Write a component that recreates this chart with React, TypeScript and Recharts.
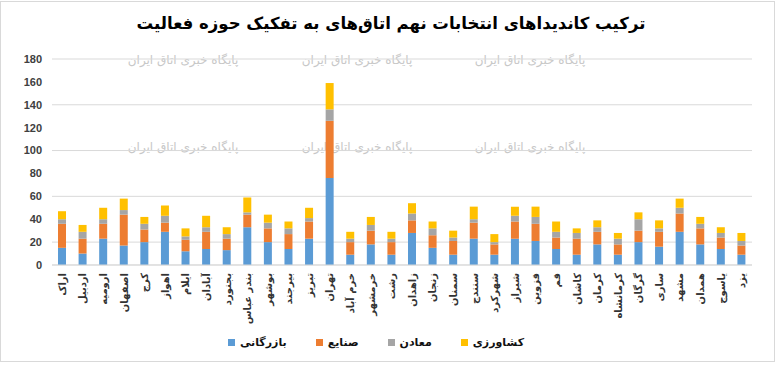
import React from "react";
import { BarChart, Bar, XAxis, YAxis, CartesianGrid, Legend } from "recharts";

const cities = ["اراک","اردبیل","ارومیه","اصفهان","کرج","اهواز","ایلام","آبادان","بجنورد","بندر عباس","بوشهر","بیرجند","تبریز","تهران","خرم آباد","خرمشهر","رشت","زاهدان","زنجان","سمنان","سنندج","شهرکرد","شیراز","قزوین","قم","کاشان","کرمان","کرمانشاه","گرگان","ساری","مشهد","همدان","یاسوج","یزد"];
const commerce = [15,10,23,17,20,29,12,14,13,33,20,14,23,76,9,18,9,28,15,9,23,9,23,21,14,9,18,9,20,16,29,18,14,9];
const industry = [21,13,13,27,11,8,10,15,10,11,12,13,15,50,11,12,11,11,11,12,14,9,15,15,10,14,11,9,10,13,16,14,10,8];
const mining = [4,6,4,4,5,6,3,4,4,2,5,5,3,10,3,5,3,6,6,3,3,2,5,6,5,5,4,5,10,3,5,4,4,4];
const agriculture = [7,6,10,10,6,9,7,10,6,13,7,6,9,23,6,7,6,9,6,6,11,7,8,9,9,4,6,5,6,7,8,6,5,7];
const yTicks = [0,20,40,60,80,100,120,140,160,180];

const seriesNames = ["بازرگانی","صنایع","معادن","کشاورزی"];
const seriesKeys = ["commerce","industry","mining","agriculture"];
const seriesColors = ["#5B9BD5","#ED7D31","#A5A5A5","#FFC000"];

const title = "ترکیب کاندیداهای انتخابات نهم اتاق‌های به تفکیک حوزه فعالیت";
const watermark = "پایگاه خبری اتاق ایران";

const data = cities.map((c, i) => ({
  city: c,
  commerce: commerce[i],
  industry: industry[i],
  mining: mining[i],
  agriculture: agriculture[i],
}));

const FA = "'DejaVu Sans', sans-serif";

const CityTick = (props: any) => {
  const { x, y, payload } = props;
  return (
    <g transform={`translate(${x},${y})`}>
      <text
        transform="rotate(-90)"
        x={-8}
        y={0}
        dy="0.35em"
        textAnchor="end"
        fontFamily={FA}
        fontSize={10}
        fontWeight="bold"
        fill="#333"
      >
        {payload.value}
      </text>
    </g>
  );
};

const LegendContent = () => (
  <div style={{ display: "flex", justifyContent: "center", gap: 29, fontFamily: FA, fontSize: 11, fontWeight: "bold", color: "#111", paddingLeft: 0 }}>
    {seriesNames.map((n, i) => (
      <div key={n} style={{ display: "flex", alignItems: "center" }}>
        <span style={{ width: 7, height: 7, background: seriesColors[i], display: "inline-block", marginRight: 5 }} />
        <span>{n}</span>
      </div>
    ))}
  </div>
);

const wmX = [183, 357, 530];
const wmY = [64, 151];

export default function App() {
  return (
    <div style={{ position: "absolute", left: 0, top: 0, width: 781, height: 365, background: "#fff" }}>
      <div style={{ position: "absolute", left: 0, top: 1, width: 775, height: 361, border: "1px solid #d9d9d9", boxSizing: "border-box" }} />
      <svg width={781} height={365} style={{ position: "absolute", left: 0, top: 0 }}>
        <text x={391} y={29} textAnchor="middle" fontFamily={FA} fontSize={16.5} fontWeight="bold" fill="#000">{title}</text>
        {wmY.map((yy) => wmX.map((xx) => (
          <text key={`${xx}-${yy}`} x={xx} y={yy} textAnchor="middle" fontFamily={FA} fontSize={12} fill="#c8c8c8">{watermark}</text>
        )))}
      </svg>
      <div style={{ position: "absolute", left: 0, top: 0 }}>
        <BarChart width={781} height={365} data={data} margin={{ top: 59, right: 29, left: 0, bottom: 16 }} barSize={8}>
          <CartesianGrid vertical={false} stroke="#d9d9d9" />
          <XAxis dataKey="city" interval={0} tick={<CityTick />} tickLine={false} axisLine={{ stroke: "#d9d9d9" }} height={71} tickSize={0} tickMargin={0} />
          <YAxis width={52} domain={[0, 180]} ticks={yTicks} axisLine={false} tickLine={false} tickSize={6} tickMargin={4}
            tick={{ fontFamily: "'Liberation Sans', Arial, sans-serif", fontSize: 11, fontWeight: "bold", fill: "#404040" }} />
          <Legend verticalAlign="bottom" content={<LegendContent />} />
          {seriesKeys.map((k, i) => (
            <Bar key={k} dataKey={k} name={seriesNames[i]} stackId="a" fill={seriesColors[i]} isAnimationActive={false} />
          ))}
        </BarChart>
      </div>
    </div>
  );
}
